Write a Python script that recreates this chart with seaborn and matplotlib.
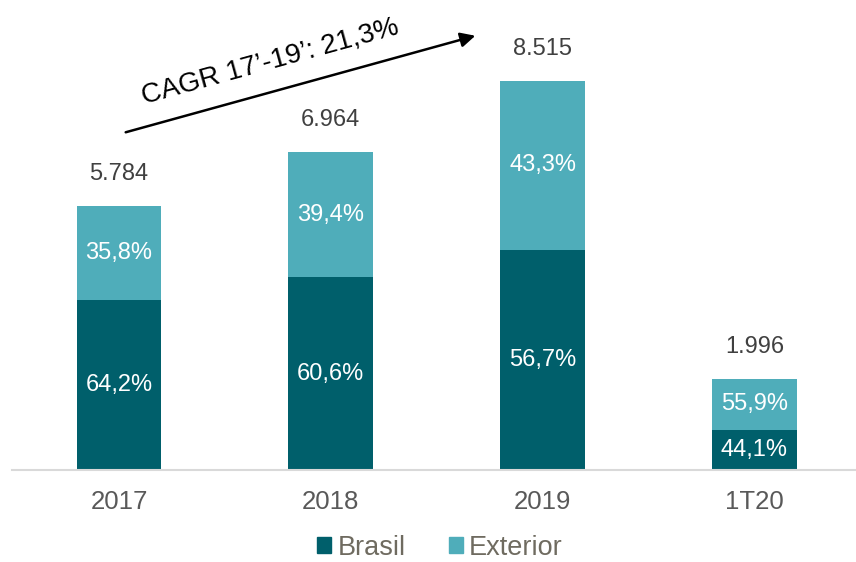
import matplotlib
matplotlib.use('Agg')
import matplotlib.pyplot as plt
import seaborn as sb
import pandas as pd
from matplotlib.patches import Patch

periods = ['2017', '2018', '2019', '1T20']
totals = [5784, 6964, 8515, 1996]
brasil_pct = [64.2, 60.6, 56.7, 44.1]
exterior_pct = [35.8, 39.4, 43.3, 55.9]
total_labels = ['5.784', '6.964', '8.515', '1.996']

c_brasil = '#005F6B'
c_ext = '#4FADBA'

sb.set_style('white')
plt.rcParams['font.family'] = ['Liberation Sans', 'DejaVu Sans']

df = pd.DataFrame({'periodo': periods, 'total': totals,
                   'brasil': [t * p / 100 for t, p in zip(totals, brasil_pct)]})

fig = plt.figure(figsize=(8.56, 5.62), dpi=100)
ax = fig.add_axes([0.014, 0.1636, 0.986, 0.8364])

sb.barplot(data=df, x='periodo', y='total', color=c_ext, width=0.4, ax=ax,
           saturation=1, linewidth=0)
sb.barplot(data=df, x='periodo', y='brasil', color=c_brasil, width=0.4, ax=ax,
           saturation=1, linewidth=0)

ax.set_xlim(-0.505, 3.48)
ax.set_ylim(0, 10290)

for i in range(len(periods)):
    b = df['brasil'][i]
    t = totals[i]
    ax.text(i, b / 2, f"{brasil_pct[i]:.1f}%".replace('.', ','), ha='center', va='center',
            color='white', fontsize=17)
    ax.text(i, b + (t - b) / 2, f"{exterior_pct[i]:.1f}%".replace('.', ','), ha='center', va='center',
            color='white', fontsize=17)
    ax.annotate(total_labels[i], (i, t), xytext=(0, 23), textcoords='offset points',
                ha='center', va='center', color='#404040', fontsize=17)

ax.set_xlabel('')
ax.set_ylabel('')
ax.set_yticks([])
for s in ['left', 'right', 'top']:
    ax.spines[s].set_visible(False)
ax.spines['bottom'].set_color('#D9D9D9')
ax.spines['bottom'].set_linewidth(1.5)
ax.tick_params(axis='x', length=0, pad=14, labelsize=18.5, labelcolor='#595959')

# CAGR arrow
fig.patches.append(matplotlib.patches.FancyArrowPatch(
    (0.1437, 0.7633), (0.5584, 0.9377), transform=fig.transFigure,
    arrowstyle='-|>', mutation_scale=22, color='black', lw=1.8))
fig.text(0.316, 0.890, 'CAGR 17’-19’: 21,3%', rotation=15.4, ha='center', va='center',
         fontsize=20, color='black', rotation_mode='anchor')

handles = [Patch(color=c_brasil, label='Brasil'), Patch(color=c_ext, label='Exterior')]
leg = fig.legend(handles=handles, loc='center', bbox_to_anchor=(0.514, 0.025), ncol=2,
                 frameon=False, fontsize=19.5, handlelength=0.52, handleheight=0.52,
                 handletextpad=0.22, columnspacing=1.6, labelcolor='#6F6B60')

fig.savefig('out.png', dpi=100)
